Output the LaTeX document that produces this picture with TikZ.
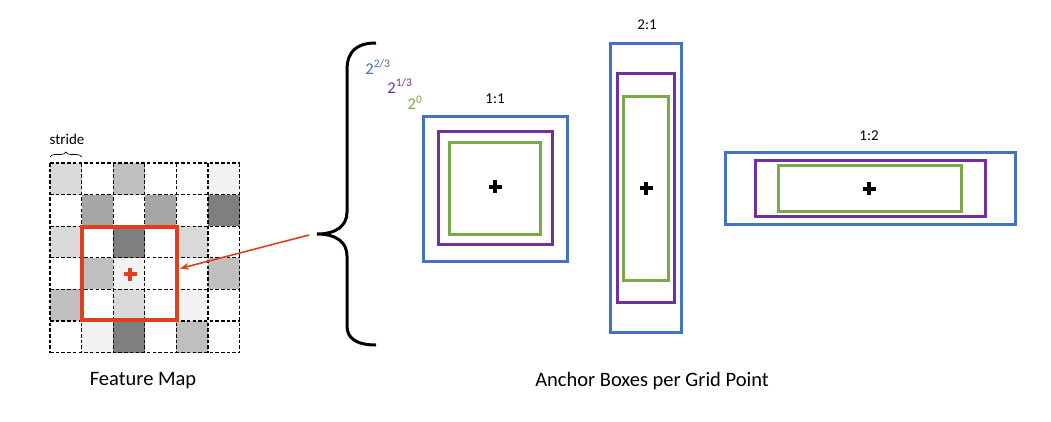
\documentclass[tikz,border=0pt]{standalone}
\usepackage{fontspec}
\setmainfont{Carlito}
\usetikzlibrary{arrows.meta,decorations.pathreplacing,calc}
\definecolor{ablue}{RGB}{68,114,196}
\definecolor{apurple}{RGB}{112,48,160}
\definecolor{agreen}{RGB}{122,170,72}
\definecolor{ared}{RGB}{222,64,30}
\definecolor{gA}{RGB}{242,242,242}
\definecolor{gB}{RGB}{217,217,217}
\definecolor{gC}{RGB}{191,191,191}
\definecolor{gD}{RGB}{166,166,166}
\definecolor{gE}{RGB}{127,127,127}
\tikzset{
  bbox/.style={draw=ablue,line width=3pt,inner sep=0pt},
  pbox/.style={draw=apurple,line width=3pt,inner sep=0pt},
  gbox/.style={draw=agreen,line width=3pt,inner sep=0pt},
  lbl/.style={font=\fontsize{15}{18}\selectfont,inner sep=0pt},
  captiontext/.style={font=\fontsize{20.5}{24}\selectfont,inner sep=0pt},
  pw/.style={font=\fontsize{16.5}{19}\selectfont,inner sep=0pt},
  gridline/.style={line width=1.3pt,dash pattern=on 3.5pt off 2.2pt},
}
\newcommand{\plusmark}[3]{%
  \draw[#3,line width=4pt] ($(#1)+(-6.5,0)$) -- ($(#1)+(6.5,0)$);
  \draw[#3,line width=4pt] ($(#1)+(0,-6.5)$) -- ($(#1)+(0,6.5)$);}
\begin{document}
\begin{tikzpicture}[x=1pt,y=-1pt]
\useasboundingbox (0,0) rectangle (1051,421);
\fill[white] (0,0) rectangle (1051,421);
% grid cells
\def\cs{31.6}
\foreach \r/\c/\col in {0/0/gB,0/2/gC,0/5/gA,
  1/1/gD,1/3/gD,1/5/gE,
  2/0/gB,2/2/gE,2/4/gB,
  3/1/gC,3/2/gA,3/5/gC,
  4/0/gC,4/2/gB,4/4/gA,
  5/1/gA,5/2/gE,5/4/gC}{
  \fill[\col] (50+\c*\cs,163+\r*\cs) rectangle (50+\c*\cs+\cs,163+\r*\cs+\cs);
}
\foreach \i in {0,...,6}{
  \draw[gridline] (50+\i*\cs,163) -- (50+\i*\cs,352.6);
  \draw[gridline] (50,163+\i*\cs) -- (239.6,163+\i*\cs);
}
% stride
\draw[decorate,decoration={brace,amplitude=5pt},line width=0.7pt] (50,157) -- (81.6,157);
\node[lbl] (stride) at (67,139) {stride};
% red box
\node[draw=ared,line width=4pt,minimum width=95pt,minimum height=93.5pt,inner sep=0pt] (redbox) at (129.2,273.4) {};
\coordinate (rp) at (130,274);
\plusmark{rp}{}{ared}
% big brace
\coordinate (btip) at (317,234);
\draw[line width=3pt] (376,43) .. controls (356,43) and (347,52) .. (347,70) -- (347,212)
  .. controls (347,226) and (336,234) .. (btip)
  .. controls (336,234) and (347,242) .. (347,256) -- (347,326)
  .. controls (347,338) and (356,345) .. (376,345);
\coordinate (arrS) at (309,235);
\coordinate (arrE) at (180,268.5);
\draw[ared,line width=1.6pt,-{Stealth[length=9pt,width=7pt]}] (arrS) -- (arrE);
% scale labels
\node[pw,text=ablue] (s1) at (378,67) {2\textsuperscript{2/3}};
\node[pw,text=apurple] (s2) at (400,86) {2\textsuperscript{1/3}};
\node[pw,text=agreen] (s3) at (415,103) {2\textsuperscript{0}};
% 1:1
\node[bbox,minimum width=144pt,minimum height=145pt] (b11) at (495.5,188.5) {};
\node[pbox,minimum width=114pt,minimum height=113pt] (p11) at (495.3,188.3) {};
\node[gbox,minimum width=91pt,minimum height=92pt] (g11) at (495,188.2) {};
\node[lbl] (l11) at (495,99) {1:1};
\coordinate (c11) at (495,186.5);
\plusmark{c11}{}{black}
% 2:1
\node[bbox,minimum width=70.6pt,minimum height=288.7pt] (b21) at (646,188.3) {};
\node[pbox,minimum width=57.4pt,minimum height=229.4pt] (p21) at (646,188) {};
\node[gbox,minimum width=45.4pt,minimum height=184pt] (g21) at (646,188) {};
\node[lbl] (l21) at (647,25) {2:1};
\coordinate (c21) at (646,188);
\plusmark{c21}{}{black}
% 1:2
\node[bbox,minimum width=290pt,minimum height=72pt] (b12) at (870,188.3) {};
\node[pbox,minimum width=230pt,minimum height=56pt] (p12) at (870,188.7) {};
\node[gbox,minimum width=183.4pt,minimum height=46pt] (g12) at (870,188) {};
\node[lbl] (l12) at (869,136) {1:2};
\coordinate (c12) at (869,188.5);
\plusmark{c12}{}{black}
% captions
\node[captiontext] (fm) at (143,381) {Feature Map};
\node[captiontext] (ab) at (652,381) {Anchor Boxes per Grid Point};
\end{tikzpicture}
\end{document}
